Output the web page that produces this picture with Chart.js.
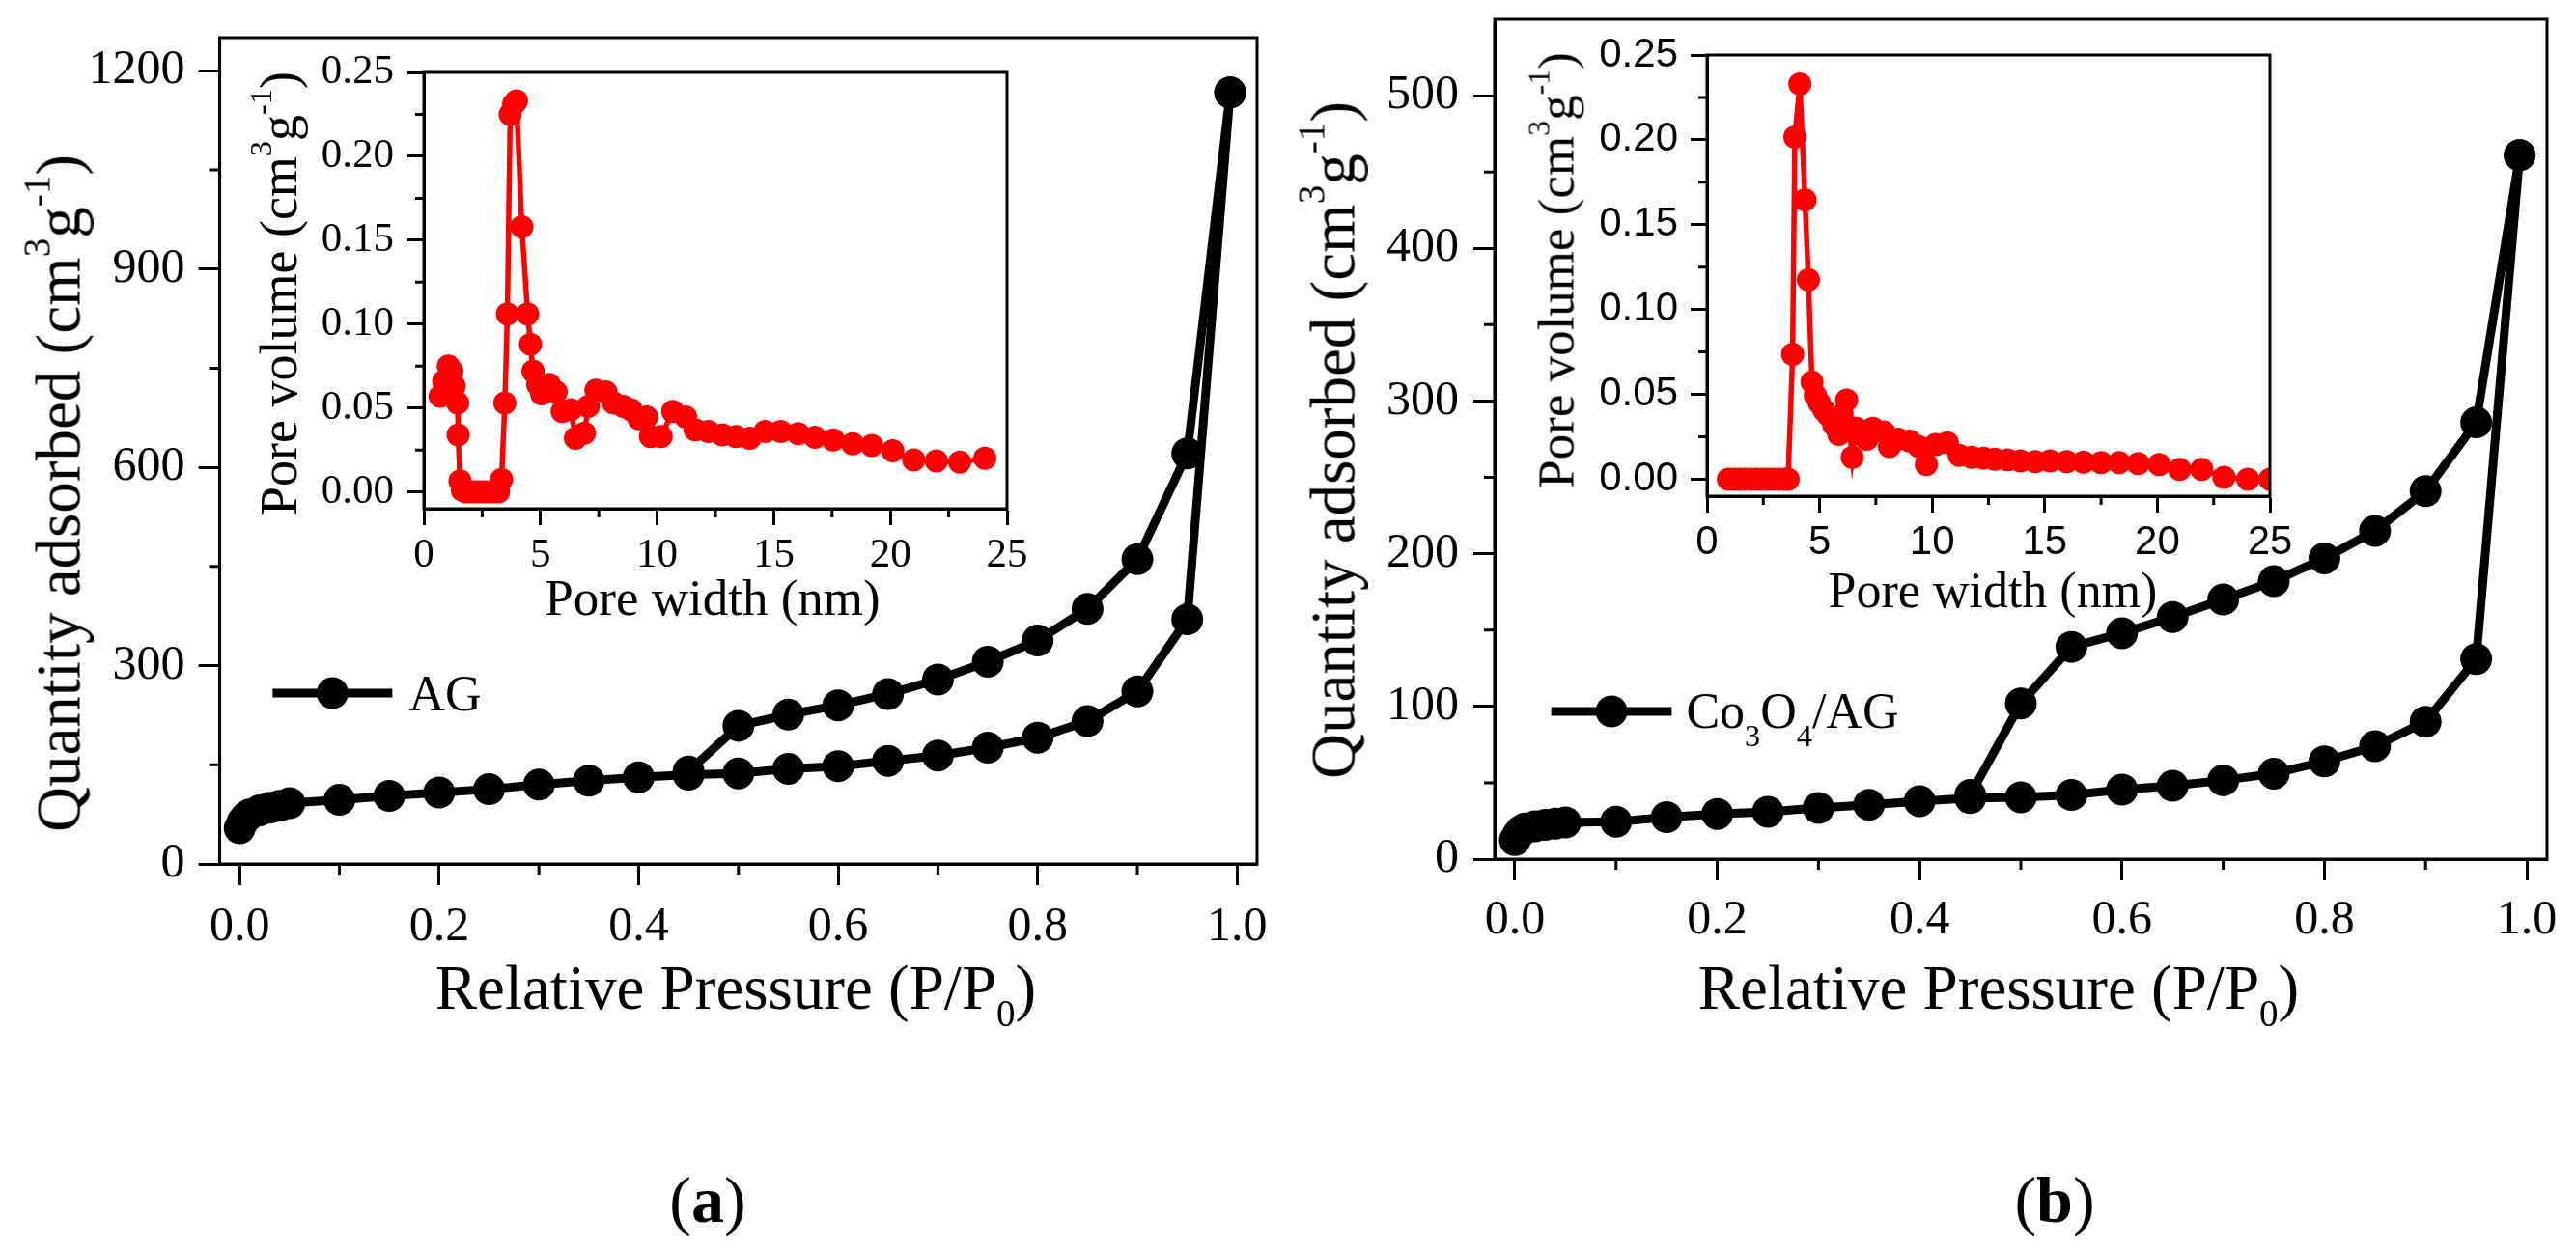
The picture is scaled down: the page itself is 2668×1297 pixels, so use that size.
<!DOCTYPE html>
<html>
<head>
<meta charset="utf-8">
<title>N2 isotherms - AG / Co3O4/AG</title>
<script src="https://cdn.jsdelivr.net/npm/chart.js@4.4.0/dist/chart.umd.min.js"></script>
<style>
    html, body { margin: 0; padding: 0; background: #fff; }
    #page { position: relative; width: 2668px; height: 1297px; overflow: hidden; background: #fff; }
    canvas { position: absolute; }
    .lbl { position: absolute; white-space: nowrap; line-height: 1; color: #000; z-index: 5;
           font-family: "Liberation Serif", "Times New Roman", serif; }
    .hcenter { transform: translateX(-50%); }
    .vtitle { transform: translate(-50%, -50%) rotate(-90deg); }
    .sup { position: relative; font-size: 0.6em; top: -0.8em; }
    .sub { position: relative; font-size: 0.6em; top: 0.45em; }
</style>
</head>
<body>
<div id="page">
    <canvas id="isothermA"></canvas>
    <canvas id="isothermB"></canvas>
    <canvas id="poresA"></canvas>
    <canvas id="poresB"></canvas>

    <!-- axis titles (a) -->
    <div class="lbl vtitle" style="left:61px; top:511px; font-size:65px;">Quantity adsorbed (cm<span class="sup">3</span>g<span class="sup">-1</span>)</div>
    <div class="lbl hcenter" style="left:762px; top:991px; font-size:65px;">Relative Pressure (P/P<span class="sub">0</span>)</div>
    <div class="lbl vtitle" style="left:289px; top:304px; font-size:54px;">Pore volume (cm<span class="sup">3</span>g<span class="sup">-1</span>)</div>
    <div class="lbl hcenter" style="left:738px; top:593px; font-size:53px;">Pore width (nm)</div>
    <div class="lbl hcenter" style="left:733px; top:1209px; font-size:68px;">(<b>a</b>)</div>

    <!-- axis titles (b) -->
    <div class="lbl vtitle" style="left:1381px; top:456px; font-size:65px;">Quantity adsorbed (cm<span class="sup">3</span>g<span class="sup">-1</span>)</div>
    <div class="lbl hcenter" style="left:2070px; top:991px; font-size:65px;">Relative Pressure (P/P<span class="sub">0</span>)</div>
    <div class="lbl vtitle" style="left:1612px; top:280px; font-size:53px;">Pore volume (cm<span class="sup">3</span>g<span class="sup">-1</span>)</div>
    <div class="lbl hcenter" style="left:2064px; top:586px; font-size:52px;">Pore width (nm)</div>
    <div class="lbl hcenter" style="left:2128px; top:1209px; font-size:68px;">(<b>b</b>)</div>
</div>

<script>
/**
 * Isothermes d'adsorption N2 (AG et Co3O4/AG) avec distribution de taille de pores en encart.
 */

// ---- Panel (a) : AG ----
const pressureAdsA = [0, 0.003, 0.006, 0.01, 0.02, 0.03, 0.04, 0.05, 0.1, 0.15, 0.2, 0.25, 0.3, 0.35, 0.4,
    0.45, 0.5, 0.55, 0.6, 0.65, 0.7, 0.75, 0.8, 0.85, 0.9, 0.95, 0.993];
const quantityAdsA = [54, 64, 70, 75, 81, 85, 88, 92, 97, 103, 108, 113, 120, 126, 131,
    135, 137, 144, 148, 156, 164, 176, 191, 216, 261, 370, 1167];
const pressureDesA = [0.993, 0.95, 0.9, 0.85, 0.8, 0.75, 0.7, 0.65, 0.6, 0.55, 0.5, 0.45];
const quantityDesA = [1167, 621, 461, 386, 338, 306, 279, 257, 240, 226, 209, 140];

// ---- Panel (b) : Co3O4/AG ----
const pressureAdsB = [0, 0.003, 0.006, 0.01, 0.02, 0.03, 0.04, 0.05, 0.1, 0.15, 0.2, 0.25, 0.3, 0.35, 0.4,
    0.45, 0.5, 0.55, 0.6, 0.65, 0.7, 0.75, 0.8, 0.85, 0.9, 0.95, 0.993];
const quantityAdsB = [12.5, 16, 18.5, 20, 21.5, 22.5, 23.3, 24, 24.5, 27.5, 29.6, 31, 33.5, 35.6, 38,
    40, 40.5, 42, 45.5, 48, 51.6, 56, 64, 74, 90, 131, 461];
const pressureDesB = [0.993, 0.95, 0.9, 0.85, 0.8, 0.75, 0.7, 0.65, 0.6, 0.55, 0.5, 0.45];
const quantityDesB = [461, 286, 241, 215, 197, 182, 170, 158.5, 148, 139, 102, 42];

// ---- Insets : pore size distribution ----
const poreWidthA = [0.7, 0.85, 1.05, 1.2, 1.3, 1.45, 1.47, 1.55, 1.65, 1.8, 2.0, 2.2, 2.4, 2.6, 2.8, 3.0, 3.2,
    3.33, 3.47, 3.58, 3.7, 3.85, 3.97, 4.2, 4.45, 4.57, 4.68, 4.88, 5.05, 5.38, 5.67, 5.93, 6.3, 6.5, 6.88,
    7.05, 7.38, 7.8, 8.13, 8.55, 8.88, 9.22, 9.55, 9.72, 10.17, 10.67, 11.22, 11.63, 12.2, 12.8, 13.38, 13.97,
    14.63, 15.3, 16.05, 16.77, 17.55, 18.38, 19.2, 20.1, 21.0, 21.97, 22.97, 24.05];
const poreVolumeA = [0.057, 0.066, 0.075, 0.072, 0.063, 0.053, 0.034, 0.0065, 0.001, 0, 0, 0, 0, 0, 0, 0, 0,
    0.0074, 0.053, 0.106, 0.225, 0.231, 0.233, 0.158, 0.106, 0.088, 0.072, 0.064, 0.0585, 0.064, 0.0596, 0.048, 0.049, 0.032, 0.035,
    0.051, 0.0606, 0.0596, 0.053, 0.051, 0.049, 0.0436, 0.0447, 0.033, 0.033, 0.048, 0.0447, 0.037, 0.036, 0.034, 0.033, 0.032,
    0.036, 0.036, 0.0347, 0.0326, 0.031, 0.0287, 0.0277, 0.0245, 0.019, 0.0185, 0.0177, 0.020];

const poreWidthB = [0.95, 1.2, 1.45, 1.7, 1.95, 2.2, 2.45, 2.7, 2.95, 3.2, 3.45, 3.6,
    3.8, 3.9, 4.12, 4.35, 4.5, 4.66, 4.81, 4.98, 5.19, 5.39, 5.63, 5.85, 6.0, 6.2, 6.45, 6.62, 7.1, 7.36, 7.85,
    8.1, 8.5, 9.0, 9.4, 9.74, 10.15, 10.67, 11.2, 11.76, 12.28, 12.78, 13.35, 13.92, 14.58, 15.24, 15.98,
    16.72, 17.5, 18.3, 19.15, 20.08, 20.99, 21.97, 22.96, 24.02, 25.0];
const poreVolumeB = [0, 0, 0, 0, 0, 0, 0, 0, 0, 0, 0, 0,
    0.0736, 0.2017, 0.233, 0.1646, 0.1176, 0.0573, 0.0494, 0.045, 0.0408, 0.0376, 0.032, 0.0264, 0.038, 0.0466, 0.0129, 0.030, 0.0236, 0.030, 0.0279,
    0.0193, 0.0236, 0.0225, 0.0193, 0.0086, 0.0204, 0.0215, 0.014, 0.0129, 0.0124, 0.0118, 0.0114, 0.0107, 0.0103, 0.0107, 0.0103,
    0.0101, 0.0097, 0.0097, 0.0092, 0.0086, 0.0058, 0.0058, 0.0011, 0, 0];

// ---- Graduations (majeures / mineures) ----
const mainTicksX = [0, 0.2, 0.4, 0.6, 0.8, 1.0];
const mainTicksYA = [0, 300, 600, 900, 1200];
const mainTicksYB = [0, 100, 200, 300, 400, 500];
const insetTicksX = [0, 5, 10, 15, 20, 25];
const insetTicksY = [0, 0.05, 0.1, 0.15, 0.2, 0.25];
const mainMinorX = [0.1, 0.3, 0.5, 0.7, 0.9];
const mainMinorYA = [150, 450, 750, 1050];
const mainMinorYB = [50, 150, 250, 350, 450];
const insetMinorX = [2.5, 7.5, 12.5, 17.5, 22.5];
const insetMinorY = [0.025, 0.075, 0.125, 0.175, 0.225];

const SERIF = '"Liberation Serif", "Times New Roman", serif';
const SANS = '"Liberation Sans", Arial, sans-serif';

document.addEventListener('DOMContentLoaded', function () {
    initializeIsothermA();
    initializeIsothermB();
    initializePoresA();
    initializePoresB();
});

function toPoints(xs, ys) {
    return xs.map((x, i) => ({ x: x, y: ys[i] }));
}

/**
 * Place le canvas et calcule padding / tailles d'axes pour obtenir une zone de tracé fixe
 */
function setupCanvas(id, box, area) {
    const canvas = document.getElementById(id);
    canvas.width = box.w;
    canvas.height = box.h;
    canvas.style.left = box.x + 'px';
    canvas.style.top = box.y + 'px';
    canvas.style.width = box.w + 'px';
    canvas.style.height = box.h + 'px';
    return {
        canvas: canvas,
        padding: { left: 0, top: area.top - box.y, right: box.x + box.w - area.right, bottom: 0 },
        yWidth: area.left - box.x,
        xHeight: box.y + box.h - area.bottom
    };
}

function buildScales(o) {
    const grid = { display: true, drawOnChartArea: false, drawTicks: true, tickLength: o.tickLength,
        tickWidth: 3, tickColor: '#000', color: '#000' };
    const border = { display: true, color: '#000', width: 3 };
    return {
        x: {
            type: 'linear', position: 'bottom', min: o.xMin, max: o.xMax,
            grid: grid, border: border,
            ticks: { autoSkip: false, maxRotation: 0, minRotation: 0,
                padding: o.xPad, color: '#000', font: o.font, callback: o.xFormat },
            afterBuildTicks: function (scale) {
                scale.ticks = o.xTicks.map(v => ({ value: v }));
            },
            afterFit: function (scale) {
                scale.height = o.xHeight;
                scale.paddingLeft = 0;
                scale.paddingRight = 0;
            }
        },
        y: {
            type: 'linear', position: 'left', min: o.yMin, max: o.yMax,
            grid: grid, border: border,
            ticks: { autoSkip: false,
                padding: o.yPad, color: '#000', font: o.font, callback: o.yFormat },
            afterBuildTicks: function (scale) {
                scale.ticks = o.yTicks.map(v => ({ value: v }));
            },
            afterFit: function (scale) {
                scale.width = o.yWidth;
                scale.paddingTop = 0;
                scale.paddingBottom = 0;
            }
        }
    };
}

/**
 * Cadre complet + petites graduations
 */
function frameAndMinorTicks(minorX, minorY, minorLength) {
    return {
        id: 'frameMinor',
        afterDraw: function (chart) {
            const ctx = chart.ctx;
            const a = chart.chartArea;
            const x = chart.scales.x;
            const y = chart.scales.y;
            ctx.save();
            ctx.strokeStyle = '#000';
            ctx.lineWidth = 3;
            ctx.strokeRect(a.left, a.top, a.right - a.left, a.bottom - a.top);
            ctx.beginPath();
            minorX.forEach(function (v) {
                const px = x.getPixelForValue(v);
                ctx.moveTo(px, a.bottom);
                ctx.lineTo(px, a.bottom + minorLength);
            });
            minorY.forEach(function (v) {
                const py = y.getPixelForValue(v);
                ctx.moveTo(a.left, py);
                ctx.lineTo(a.left - minorLength, py);
            });
            ctx.stroke();
            ctx.restore();
        }
    };
}

/**
 * Légende : segment + cercle + texte (avec indices)
 */
function lineLegend(from, to, at, parts, gap, baselineShift) {
    return {
        id: 'lineLegend',
        afterDraw: function (chart) {
            const ctx = chart.ctx;
            const x0 = chart.scales.x.getPixelForValue(from);
            const x1 = chart.scales.x.getPixelForValue(to);
            const py = chart.scales.y.getPixelForValue(at);
            ctx.save();
            ctx.strokeStyle = '#000';
            ctx.fillStyle = '#000';
            ctx.lineWidth = 9;
            ctx.beginPath();
            ctx.moveTo(x0, py);
            ctx.lineTo(x1, py);
            ctx.stroke();
            ctx.beginPath();
            ctx.arc((x0 + x1) / 2, py, 16.5, 0, Math.PI * 2);
            ctx.fill();

            const size = 52;
            let tx = x1 + gap;
            const base = py + baselineShift;
            ctx.textAlign = 'left';
            ctx.textBaseline = 'alphabetic';
            parts.forEach(function (p) {
                const s = p.sub ? size * 0.62 : size;
                ctx.font = s + 'px ' + SERIF;
                ctx.fillText(p.text, tx, base + (p.sub ? size * 0.36 : 0));
                tx += ctx.measureText(p.text).width;
            });
            ctx.restore();
        }
    };
}

function isoDataset(points) {
    return {
        data: points,
        showLine: true,
        borderColor: '#000',
        backgroundColor: '#000',
        borderWidth: 9,
        tension: 0,
        pointRadius: 16.5,
        pointBackgroundColor: '#000',
        pointBorderColor: '#000',
        pointBorderWidth: 0
    };
}

function poreDataset(points) {
    return {
        data: points,
        showLine: true,
        borderColor: '#FF0000',
        backgroundColor: '#FF0000',
        borderWidth: 5.5,
        tension: 0,
        pointRadius: 12,
        pointBackgroundColor: '#FF0000',
        pointBorderColor: '#FF0000',
        pointBorderWidth: 0
    };
}

function baseOptions(layout, scales) {
    return {
        responsive: false,
        animation: false,
        devicePixelRatio: 1,
        events: [],
        layout: { padding: layout.padding },
        plugins: { legend: { display: false }, tooltip: { enabled: false }, title: { display: false } },
        scales: scales
    };
}

function initializeIsothermA() {
    const layout = setupCanvas('isothermA', { x: 0, y: 0, w: 1330, h: 1130 },
        { left: 227.6, top: 39, right: 1302, bottom: 895 });
    const scales = buildScales({
        xMin: -0.02, xMax: 1.02, yMin: 0, yMax: 1250, xTicks: mainTicksX, yTicks: mainTicksYA,
        font: { family: SERIF, size: 50 }, tickLength: 22, xPad: 14, yPad: 14,
        xFormat: v => v.toFixed(1), yFormat: v => String(Math.round(v)),
        xHeight: layout.xHeight, yWidth: layout.yWidth
    });
    new Chart(layout.canvas, {
        type: 'scatter',
        data: { datasets: [isoDataset(toPoints(pressureAdsA, quantityAdsA)), isoDataset(toPoints(pressureDesA, quantityDesA))] },
        options: baseOptions(layout, scales),
        plugins: [frameAndMinorTicks(mainMinorX, mainMinorYA, 11),
            lineLegend(0.033, 0.153, 258.5, [{ text: 'AG' }], 17, 18)]
    });
}

function initializeIsothermB() {
    const layout = setupCanvas('isothermB', { x: 1335, y: 0, w: 1333, h: 1130 },
        { left: 1548, top: 20, right: 2638, bottom: 890 });
    const scales = buildScales({
        xMin: -0.02, xMax: 1.02, yMin: 0, yMax: 550, xTicks: mainTicksX, yTicks: mainTicksYB,
        font: { family: SERIF, size: 50 }, tickLength: 22, xPad: 12, yPad: 15,
        xFormat: v => v.toFixed(1), yFormat: v => String(Math.round(v)),
        xHeight: layout.xHeight, yWidth: layout.yWidth
    });
    new Chart(layout.canvas, {
        type: 'scatter',
        data: { datasets: [isoDataset(toPoints(pressureAdsB, quantityAdsB)), isoDataset(toPoints(pressureDesB, quantityDesB))] },
        options: baseOptions(layout, scales),
        plugins: [frameAndMinorTicks(mainMinorX, mainMinorYB, 11),
            lineLegend(0.036, 0.155, 96.7,
                [{ text: 'Co' }, { text: '3', sub: true }, { text: 'O' }, { text: '4', sub: true }, { text: '/AG' }], 15, 17)]
    });
}

function initializePoresA() {
    const layout = setupCanvas('poresA', { x: 320, y: 40, w: 750, h: 560 },
        { left: 439, top: 75, right: 1043, bottom: 527 });
    const scales = buildScales({
        xMin: 0, xMax: 25, yMin: -0.01, yMax: 0.25, xTicks: insetTicksX, yTicks: insetTicksY,
        font: { family: SERIF, size: 43 }, tickLength: 17, xPad: 6, yPad: 14,
        xFormat: v => String(Math.round(v)), yFormat: v => v.toFixed(2),
        xHeight: layout.xHeight, yWidth: layout.yWidth
    });
    new Chart(layout.canvas, {
        type: 'scatter',
        data: { datasets: [poreDataset(toPoints(poreWidthA, poreVolumeA))] },
        options: baseOptions(layout, scales),
        plugins: [frameAndMinorTicks(insetMinorX, insetMinorY, 9)]
    });
}

function initializePoresB() {
    const layout = setupCanvas('poresB', { x: 1640, y: 20, w: 750, h: 580 },
        { left: 1768, top: 57, right: 2351, bottom: 514 });
    const scales = buildScales({
        xMin: 0, xMax: 25, yMin: -0.01, yMax: 0.25, xTicks: insetTicksX, yTicks: insetTicksY,
        font: { family: SANS, size: 42 }, tickLength: 17, xPad: 6, yPad: 13,
        xFormat: v => String(Math.round(v)), yFormat: v => v.toFixed(2),
        xHeight: layout.xHeight, yWidth: layout.yWidth
    });
    new Chart(layout.canvas, {
        type: 'scatter',
        data: { datasets: [poreDataset(toPoints(poreWidthB, poreVolumeB))] },
        options: baseOptions(layout, scales),
        plugins: [frameAndMinorTicks(insetMinorX, insetMinorY, 9)]
    });
}
</script>
</body>
</html>
